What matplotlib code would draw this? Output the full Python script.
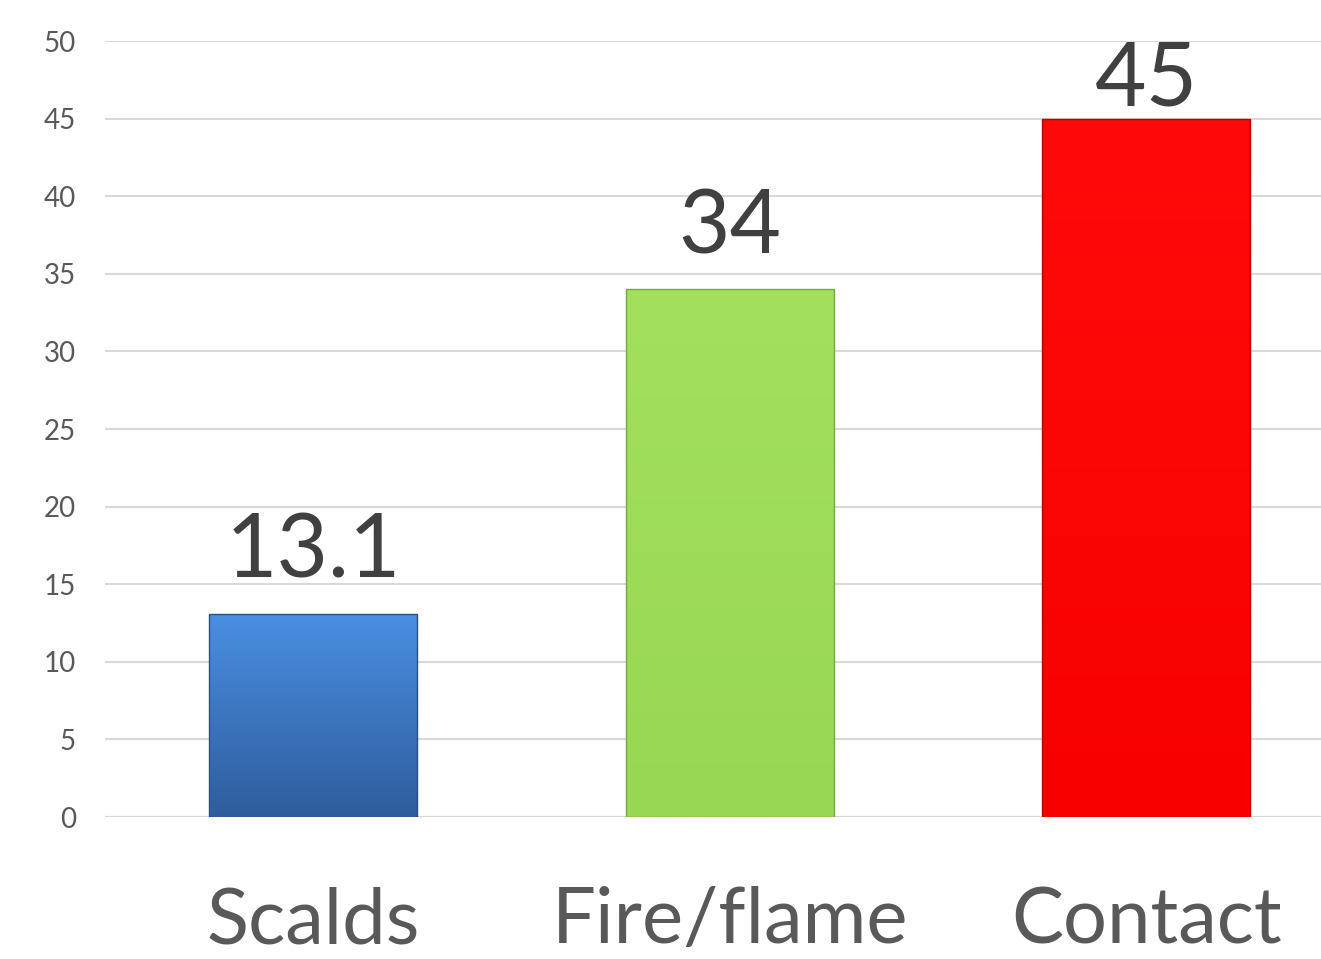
import numpy as np
import matplotlib
matplotlib.use("Agg")
import matplotlib.pyplot as plt
from matplotlib.colors import LinearSegmentedColormap

plt.rcParams['font.family'] = ['Lato', 'DejaVu Sans']

# data
categories = ['Scalds', 'Fire/flame', 'Contact']
values = [13.1, 34, 45]
value_labels = ['13.1', '34', '45']
yticks = [0, 5, 10, 15, 20, 25, 30, 35, 40, 45, 50]

# top / bottom colours for each bar
top_colors = ['#4a8fe2', '#a2e05e', '#ff0a0a']
bottom_colors = ['#2e5d9c', '#98d754', '#f80000']
edge_colors = ['#2a5088', '#78a846', '#b80000']

fig = plt.figure(figsize=(13.21, 9.59), dpi=100)
ax = fig.add_axes([105 / 1321, 1 - 817 / 959, 1 - 105 / 1321, (817 - 41) / 959])

x = np.arange(len(categories))
bars = ax.bar(x, values, width=0.5, color=bottom_colors, linewidth=0, zorder=3)

# vertical gradient inside each bar
for bar, c0, c1 in zip(bars, top_colors, bottom_colors):
    cmap = LinearSegmentedColormap.from_list('g', [c1, c0])
    grad = np.linspace(0, 1, 256).reshape(-1, 1)
    bx, by = bar.get_x(), bar.get_y()
    w, h = bar.get_width(), bar.get_height()
    im = ax.imshow(grad, cmap=cmap, origin='lower', aspect='auto',
                   extent=[bx, bx + w, by, by + h], zorder=3.5)
    im.set_clip_path(bar)

# thin darker outline over the gradient
ax.bar(x, values, width=0.5, fill=False, edgecolor=edge_colors, linewidth=1.0, zorder=4)

ax.set_xlim(-0.5, 2.42)
ax.set_ylim(0, 50)

# value labels, kept inside the plot area like the original
gap = 36 / 15.52
text_h = 64 / 15.52
for xi, v, lab in zip(x, values, value_labels):
    y = min(v + gap, 50 - text_h)
    ax.text(xi, y, lab, ha='center', va='baseline', fontsize=64,
            color='#404040', zorder=5)

ax.set_yticks(yticks)
ax.set_xticks(x)
ax.set_xticklabels(categories, fontsize=56, color='#595959')
ax.yaxis.grid(True, color='#d9d9d9', linewidth=1.5, zorder=0)
ax.set_axisbelow(True)
for pos in ['left', 'right', 'top', 'bottom']:
    ax.spines[pos].set_visible(False)
ax.tick_params(axis='y', length=0, pad=21, labelsize=20, colors='#595959')
ax.tick_params(axis='x', length=0, pad=50)
ax.axhline(0, color='#d9d9d9', linewidth=1.5, zorder=1)

fig.savefig('out.png', dpi=100)
